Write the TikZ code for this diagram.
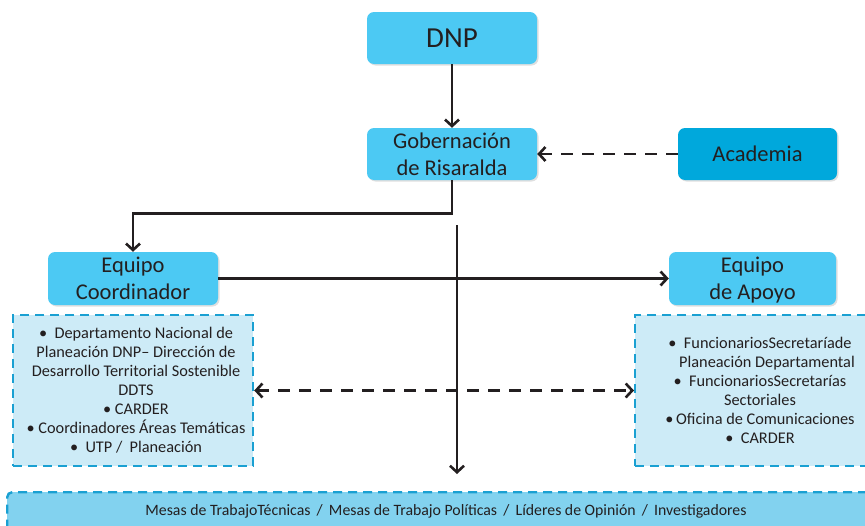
\documentclass[tikz,border=0pt]{standalone}
\usepackage{fontspec}
\setmainfont{Carlito}
\usetikzlibrary{arrows.meta,shadows}
\definecolor{nodeblue}{HTML}{4CC9F3}
\definecolor{acadblue}{HTML}{00A8DC}
\definecolor{boxfill}{HTML}{CDEBF7}
\definecolor{boxline}{HTML}{1AA0D2}
\definecolor{barfill}{HTML}{82D2EF}
\definecolor{txt}{HTML}{231F20}
\definecolor{lin}{HTML}{231F20}
\tikzset{
  mainbox/.style={rounded corners=7pt, fill=nodeblue, text=txt, align=center,
    inner sep=0pt, font=\fontsize{22.5}{27}\selectfont,
    drop shadow={shadow xshift=1.5pt, shadow yshift=-1.5pt, opacity=0.25}},
  dashbox/.style={fill=boxfill, draw=boxline, line width=2.4pt,
    dash pattern=on 9pt off 6pt, text=txt, align=center, inner sep=0pt,
    font=\fontsize{16.3}{19}\selectfont},
  conn/.style={draw=lin, line width=2.6pt, -{Straight Barb[length=6.5pt,width=14pt,line width=2.6pt]}},
  dconn/.style={conn, dash pattern=on 12pt off 9pt},
  ddconn/.style={dconn, {Straight Barb[length=6.5pt,width=14pt,line width=2.6pt]}-{Straight Barb[length=6.5pt,width=14pt,line width=2.6pt]}}
}
\begin{document}
\begin{tikzpicture}[x=1pt,y=-1pt]
\useasboundingbox (0,0) rectangle (865,525);
\clip (0,0) rectangle (865,525);
% bottom bar
\node[dashbox, fill=barfill, anchor=north west, minimum width=880pt, minimum height=50pt,
  rounded corners=5pt] (bar) at (6,491) {};
\node[text=txt, font=\fontsize{15.8}{18}\selectfont, inner sep=0pt] (bartext) at (446,511)
  {Mesas de TrabajoTécnicas \,/\, Mesas de Trabajo Políticas \,/\, Líderes de Opinión \,/\, Investigadores};
% main nodes
\node[mainbox, minimum width=170pt, minimum height=52pt, font=\fontsize{29}{30}\selectfont] (dnp) at (452,38) {DNP};
\node[mainbox, minimum width=170pt, minimum height=52pt] (gob) at (452,154) {Gobernación\\de Risaralda};
\node[mainbox, fill=acadblue, minimum width=159pt, minimum height=52pt] (acad) at (757.5,154) {Academia};
\node[mainbox, minimum width=170pt, minimum height=53pt] (coord) at (133,278.5) {Equipo\\Coordinador};
\node[mainbox, minimum width=167pt, minimum height=53pt] (apoyo) at (752.5,278.5) {};
\node[text=txt, align=center, font=\fontsize{22.5}{27}\selectfont, inner sep=0pt] (apoyotext) at (752.5,280.5) {Equipo\\de Apoyo};
% dashed boxes
\node[dashbox, minimum width=240pt, minimum height=151pt] (lbox) at (133,390.5) {};
\node[text=txt, align=center, font=\fontsize{16.3}{19}\selectfont, inner sep=0pt] (ltext) at (136,390)
  {\textbullet\ \ Departamento Nacional de\\
   Planeación DNP– Dirección de\\
   Desarrollo Territorial Sostenible\\
   DDTS\\
   \textbullet\ CARDER\\
   \textbullet\ Coordinadores Áreas Temáticas\\
   \textbullet\ \ UTP / \ Planeación};
\node[dashbox, minimum width=250pt, minimum height=151pt, anchor=west] (rbox) at (634,390.5) {};
\node[text=txt, align=center, font=\fontsize{16.3}{19}\selectfont, inner sep=0pt] (rtext) at (760,390)
  {\textbullet\ \ FuncionariosSecretaríade\\
   \hspace*{14pt}Planeación Departamental\\
   \textbullet\ \ FuncionariosSecretarías\\
   Sectoriales\\
   \textbullet\,Oficina de Comunicaciones\\
   \textbullet\ \ CARDER};
% connectors
\coordinate (vtop) at (457,225);
\coordinate (vbot) at (457,474);
\draw[conn] (dnp.south) -- (gob.north);
\draw[dconn] (acad.west) -- (gob.east);
\draw[conn] (gob.south) -- ++(0,33) -| (coord.north);
\draw[conn] (vtop) -- (vbot);
\draw[conn] (coord.east) -- (apoyo.west);
\draw[ddconn] (lbox.east) -- (rbox.west);
\end{tikzpicture}
\end{document}
